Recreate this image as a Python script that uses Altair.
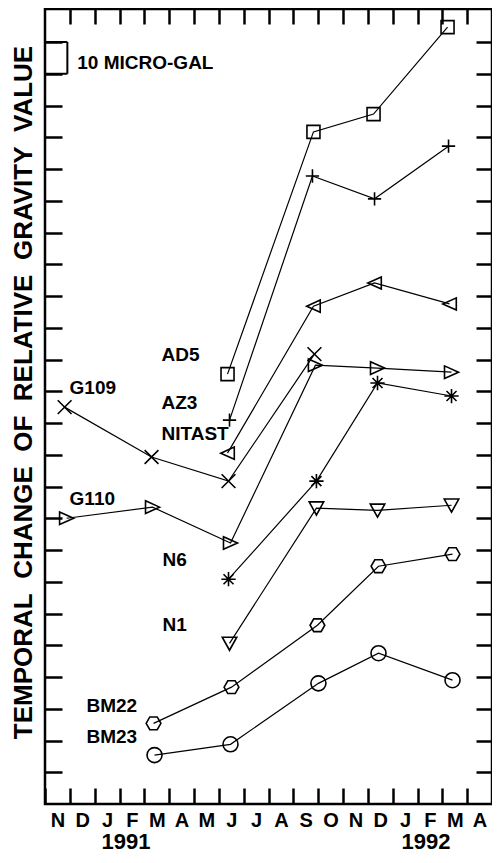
import altair as alt
import pandas as pd

# ---- data (months counted from 1 Nov 1990; gravity in micro-gal, arbitrary zero) ----
stations = ["AD5", "AZ3", "NITAST", "G109", "G110", "N6", "N1", "BM22", "BM23"]

ad5_month = [7.35, 10.81, 13.23, 16.21]
ad5_value = [135.4, 211.7, 217.3, 244.7]
az3_month = [7.43, 10.77, 13.27, 16.25]
az3_value = [120.9, 197.8, 190.6, 207.2]
nitast_month = [7.35, 10.81, 13.27, 16.29]
nitast_value = [110.5, 156.8, 164.1, 157.5]
g109_month = [0.79, 4.29, 7.39, 10.85]
g109_value = [125.0, 109.3, 101.7, 141.7]
g110_month = [0.87, 4.33, 7.47, 10.89, 13.39, 16.37]
g110_value = [90.0, 93.5, 82.2, 138.2, 137.3, 136.0]
n6_month = [7.39, 10.93, 13.39, 16.37]
n6_value = [70.8, 101.7, 132.6, 128.5]
n1_month = [7.43, 10.93, 13.39, 16.37]
n1_value = [50.6, 93.2, 92.5, 94.1]
bm22_month = [4.37, 7.51, 10.97, 13.43, 16.41]
bm22_value = [25.4, 36.8, 56.3, 74.9, 78.7]
bm23_month = [4.41, 7.47, 11.01, 13.43, 16.41]
bm23_value = [15.4, 18.8, 38.0, 47.5, 39.0]

month_letters = ["N", "D", "J", "F", "M", "A", "M", "J", "J",
                 "A", "S", "O", "N", "D", "J", "F", "M", "A"]
year_labels = ["1991", "1992"]
year_month = [3.26, 15.34]
x_ticks = list(range(0, 18))
y_ticks = list(range(10, 250, 10))

# annotation anchors (data units)
label_month = [4.69, 4.69, 4.69, 0.99, 0.99, 4.73, 4.73, 1.67, 1.67]
label_value = [141.4, 126.3, 116.5, 131.0, 96.1, 76.9, 56.4, 30.9, 21.1]
scale_bar_low, scale_bar_high = 230, 240
scale_bar_month = 0.9
scale_text = "10 MICRO-GAL"

series = {
    "AD5": (ad5_month, ad5_value), "AZ3": (az3_month, az3_value),
    "NITAST": (nitast_month, nitast_value), "G109": (g109_month, g109_value),
    "G110": (g110_month, g110_value), "N6": (n6_month, n6_value),
    "N1": (n1_month, n1_value), "BM22": (bm22_month, bm22_value),
    "BM23": (bm23_month, bm23_value),
}
rows = []
for name in stations:
    mx, vy = series[name]
    for a, b in zip(mx, vy):
        rows.append({"station": name, "month": a, "gravity": b})
df = pd.DataFrame(rows)

labels_df = pd.DataFrame({"station": stations, "month": label_month, "gravity": label_value})
years_df = pd.DataFrame({"year": year_labels, "month": year_month})
bar_df = pd.DataFrame({
    "x": [0, 0, scale_bar_month], "x2": [scale_bar_month, scale_bar_month, scale_bar_month],
    "y": [scale_bar_low, scale_bar_high, scale_bar_low],
    "y2": [scale_bar_low, scale_bar_high, scale_bar_high],
})
scale_text_df = pd.DataFrame({"t": [scale_text], "month": [1.3], "gravity": [233.4]})

FONT = "Liberation Sans"
W, H = 447, 795
XMAX, YMAX = 18, 250.4

xs = alt.Scale(domain=[0, XMAX], nice=False, zero=False)
ys = alt.Scale(domain=[0, YMAX], nice=False, zero=False)

hexagon = "M-1,0L-0.5,-0.866L0.5,-0.866L1,0L0.5,0.866L-0.5,0.866Z"
shape_range = [
    "M-1,-1H1V1H-1Z",                      # AD5 square
    "M-1,0H1M0,-1V1",                      # AZ3 plus
    "M1,-0.9L-1,0L1,0.9Z",                 # NITAST left triangle
    "M-1,-1L1,1M-1,1L1,-1",                # G109 x
    "M-1,-0.9L1,0L-1,0.9Z",                # G110 right triangle
    "M-1,0H1M0,-1V1M-0.7,-0.7L0.7,0.7M-0.7,0.7L0.7,-0.7",  # N6 asterisk
    "M-1,-0.85L1,-0.85L0,0.95Z",           # N1 down triangle
    hexagon,                               # BM22 hexagon
    "circle",                              # BM23 circle
]
size_range = [169, 225, 169, 121, 169, 169, 225, 196, 196]

letters_expr = "[" + ",".join("'%s'" % m for m in month_letters) + "][datum.value]"
title_text = "\u00a0\u00a0".join(["TEMPORAL", "CHANGE", "OF", "RELATIVE", "GRAVITY", "VALUE"])

bottom_axis = alt.Axis(orient="bottom", values=x_ticks, offset=-16, tickSize=16, domain=False,
                       labelExpr=letters_expr, labelOffset=W / XMAX / 2, labelPadding=6,
                       labelFont=FONT, labelFontSize=20, labelFontWeight="bold", labelColor="black",
                       labelFlush=False, labelOverlap=False, title=None, grid=False)
left_axis = alt.Axis(orient="left", values=y_ticks, offset=-17, tickSize=17, domain=False,
                     labels=False, grid=False, title=title_text, titleFont=FONT, titleFontSize=26,
                     titleFontWeight="bold", titleColor="black", titleAngle=270,
                     titleAlign="center", titleBaseline="middle", titleX=-39, titleY=383)
top_axis = alt.Axis(orient="top", values=x_ticks[1:], offset=-15, tickSize=15, domain=False,
                    labels=False, grid=False, title=None)
right_axis = alt.Axis(orient="right", values=y_ticks, offset=-16, tickSize=16, domain=False,
                      labels=False, grid=False, title=None)

lines = alt.Chart(df).mark_line(color="black", strokeWidth=1.2).encode(
    x=alt.X("month:Q", scale=xs, axis=bottom_axis),
    y=alt.Y("gravity:Q", scale=ys, axis=left_axis),
    detail="station:N",
)
points = alt.Chart(df).mark_point(filled=False, color="black", strokeWidth=1.6, opacity=1).encode(
    x=alt.X("month:Q", scale=xs, axis=None),
    y=alt.Y("gravity:Q", scale=ys, axis=None),
    shape=alt.Shape("station:N", scale=alt.Scale(domain=stations, range=shape_range), legend=None),
    size=alt.Size("station:N", scale=alt.Scale(domain=stations, range=size_range), legend=None),
)
bar = alt.Chart(bar_df).mark_rule(color="black", strokeWidth=2).encode(
    x=alt.X("x:Q", scale=xs, axis=top_axis),
    x2="x2:Q",
    y=alt.Y("y:Q", scale=ys, axis=right_axis),
    y2="y2:Q",
)
txt_style = dict(font=FONT, fontWeight="bold", color="black", baseline="middle")
labels = alt.Chart(labels_df).mark_text(align="left", fontSize=19, **txt_style).encode(
    x=alt.X("month:Q", scale=xs, axis=None),
    y=alt.Y("gravity:Q", scale=ys, axis=None),
    text="station:N",
)
scale_label = alt.Chart(scale_text_df).mark_text(align="left", fontSize=19, **txt_style).encode(
    x=alt.X("month:Q", scale=xs, axis=None),
    y=alt.Y("gravity:Q", scale=ys, axis=None),
    text="t:N",
)
years = alt.Chart(years_df).mark_text(align="center", fontSize=22, **txt_style).encode(
    x=alt.X("month:Q", scale=xs, axis=None),
    y=alt.value(H + 38),
    text="year:N",
)

chart = alt.layer(lines, points, bar, labels, scale_label, years).resolve_axis(
    x="independent", y="independent"
).properties(
    width=W, height=H,
    autosize=alt.AutoSizeParams(type="none"),
    padding={"left": 37, "top": 1, "right": 0, "bottom": 51},
).configure_view(stroke="black", strokeWidth=2.5).configure_axis(
    tickColor="black", tickWidth=2.5, grid=False
)

chart.save("out.html", embed_options={"renderer": "svg", "actions": False})
